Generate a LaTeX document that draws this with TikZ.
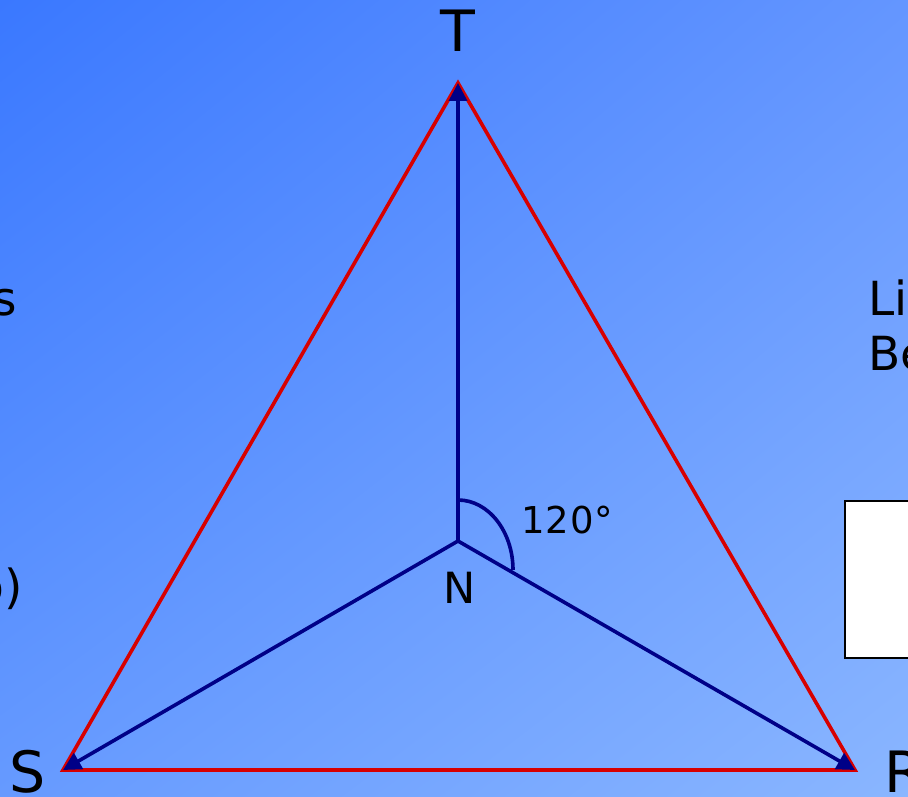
\documentclass[tikz,border=0pt]{standalone}
\usepackage{fontspec}
\setmainfont{DejaVu Sans}
\usetikzlibrary{arrows.meta,shadings}
\definecolor{bgA}{RGB}{58,120,255}
\definecolor{bgB}{RGB}{100,150,255}
\definecolor{bgC}{RGB}{102,154,255}
\definecolor{bgD}{RGB}{138,182,255}
\definecolor{redline}{RGB}{215,0,0}
\definecolor{navy}{RGB}{0,0,135}
\tikzset{
  redside/.style={draw=redline, line width=3.6pt},
  bluearm/.style={draw=navy, line width=3.6pt, -{Triangle[length=18pt,width=18pt]}},
  biglbl/.style={inner sep=0pt, font=\fontsize{57}{60}\selectfont},
  midlbl/.style={inner sep=0pt, font=\fontsize{43}{46}\selectfont},
  sidelbl/.style={inner sep=0pt, font=\fontsize{47}{50}\selectfont},
}
\begin{document}
\begin{tikzpicture}[x=1pt,y=-1pt]
\useasboundingbox (0,0) rectangle (908,797);
\shade[upper left=bgA, upper right=bgB, lower left=bgC, lower right=bgD] (0,0) rectangle (908,797);
% partial side texts
\node[sidelbl, anchor=base east] (ls) at (17,315) {s};
\node[sidelbl, anchor=base east] (lb) at (23,603) {b)};
\node[sidelbl, anchor=base west] (rl) at (868,315) {Li};
\node[sidelbl, anchor=base west] (rb) at (868,370) {Be};
\node[draw=black, line width=2pt, fill=white, anchor=north west, minimum width=90pt, minimum height=157pt, inner sep=0pt] (box) at (844,500) {};
% vertices
\coordinate (T) at (458,83);
\coordinate (S) at (63,770);
\coordinate (R) at (855,770);
\coordinate (N) at (458,541);
\draw[redside, line join=miter] (T) -- (S) -- (R) -- cycle;
\draw[bluearm] (N) -- (T);
\draw[bluearm] (N) -- (S);
\draw[bluearm] (N) -- (R);
\draw[navy, line width=3.6pt] (458,500) arc[start angle=-90, end angle=0, x radius=55, y radius=70];
% labels
\node[biglbl, anchor=base] (lT) at (458,52) {T};
\node[biglbl, anchor=base] (lS) at (28,792) {S};
\node[biglbl, anchor=base west] (lR) at (884,792) {R};
\node[midlbl, anchor=base] (lN) at (460,603) {N};
\node[font=\fontsize{37}{40}\selectfont, inner sep=0pt, anchor=base west] (ang) at (521,533) {1\kern1pt2\kern1pt0\kern1pt°};
\end{tikzpicture}
\end{document}
